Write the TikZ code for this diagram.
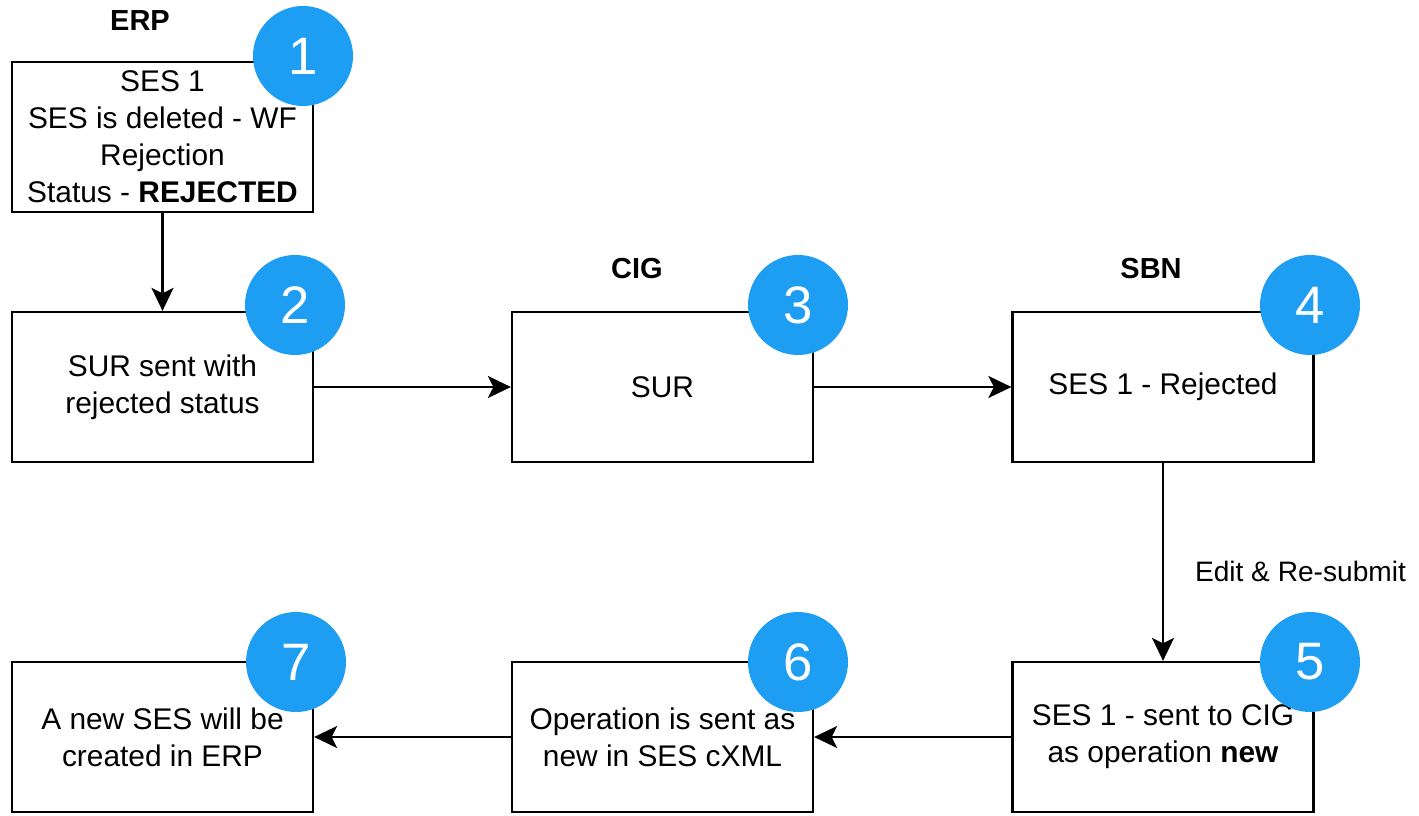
\documentclass[tikz,border=0pt]{standalone}
\usepackage{fontspec}
\setmainfont{Liberation Sans}
\usetikzlibrary{arrows.meta}
\definecolor{numblue}{RGB}{30,158,243}
\tikzset{
  box/.style={draw, line width=1.3pt, minimum width=6.02cm, minimum height=3cm, inner sep=1pt, align=center, font=\fontsize{17}{21}\selectfont},
  num/.style={circle, fill=numblue, minimum size=2cm, inner sep=0pt, text=white, font=\fontsize{30}{30}\selectfont},
  head/.style={font=\fontsize{16.5}{19}\selectfont\bfseries},
}
\begin{document}
\begin{tikzpicture}[x=0.02cm, y=0.02cm, >={Stealth[length=0.46cm, width=0.44cm, inset=0.11cm]}, line width=1.3pt]
\fill[white] (0,0) rectangle (1419,815);
\useasboundingbox (0,0) rectangle (1419,815);
% boxes
\node[box] (b1) at (162.5,678) {SES 1\\SES is deleted - WF\\Rejection\\Status - \textbf{REJECTED}};
\node[box] (b2) at (162.5,428) {SUR sent with\\rejected status};
\node[box] (b3) at (662.5,428) {SUR};
\node[box] (b4) at (1163,428) {SES 1 - Rejected};
\node[box] (b5) at (1163,78) {SES 1 - sent to CIG\\as operation \textbf{new}};
\node[box] (b6) at (662.5,78) {Operation is sent as\\new in SES cXML};
\node[box] (b7) at (162.5,78) {A new SES will be\\created in ERP};
% headings
\node[head] (erp) at (140,794) {ERP};
\node[head] (cig) at (637,546) {CIG};
\node[head] (sbn) at (1151,546) {SBN};
% connectors
\draw[->] (b1) -- (b2);
\draw[->] (b2) -- (b3);
\draw[->] (b3) -- (b4);
\draw[->] (b4) -- (b5) node[pos=.55, right=0.5cm, font=\fontsize{16}{19}\selectfont] (edit) {Edit \& Re-submit};
\draw[->] (b5) -- (b6);
\draw[->] (b6) -- (b7);
% step numbers
\node[num] (n1) at (303,759) {1};
\node[num] (n2) at (295,510) {2};
\node[num] (n3) at (798,510) {3};
\node[num] (n4) at (1310,510) {4};
\node[num] (n5) at (1310,153) {5};
\node[num] (n6) at (798,153) {6};
\node[num] (n7) at (296,153) {7};
\end{tikzpicture}
\end{document}
